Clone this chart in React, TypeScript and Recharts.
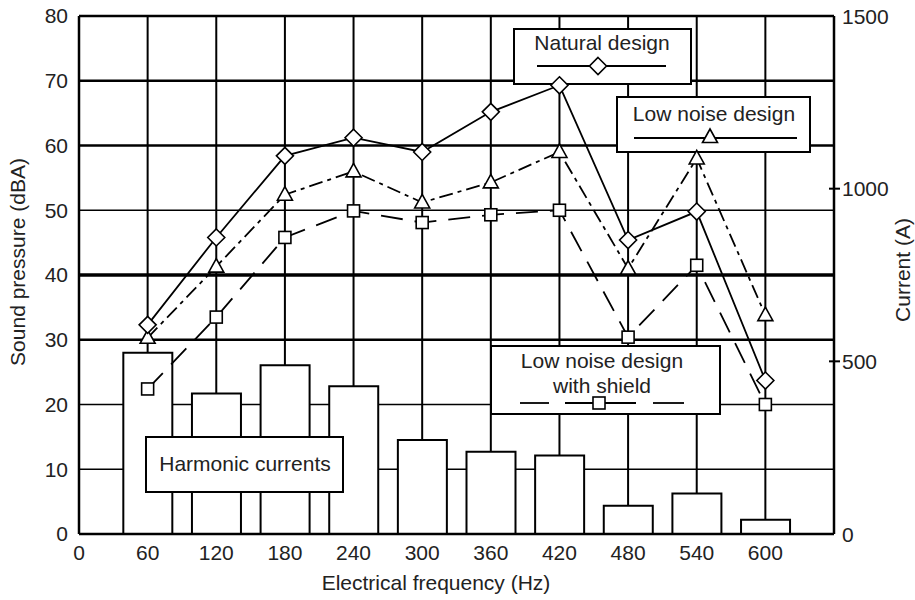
import React from "react";
import {
  ComposedChart,
  Bar,
  Line,
  XAxis,
  YAxis,
  CartesianGrid,
  Customized,
} from "recharts";

const freqs = [60, 120, 180, 240, 300, 360, 420, 480, 540, 600];
const naturalDesign = [32.3, 45.8, 58.4, 61.2, 59.0, 65.2, 69.3, 45.4, 49.8, 23.7];
const lowNoiseDesign = [30.3, 41.3, 52.4, 56.0, 51.2, 54.3, 59.0, 41.0, 58.0, 33.8];
const lowNoiseShield = [22.4, 33.5, 45.8, 49.9, 48.1, 49.3, 50.0, 30.4, 41.5, 20.0];
const harmonicCurrents = [525, 407, 489, 428, 272, 238, 227, 82, 117, 41];

const xTicks = [0, 60, 120, 180, 240, 300, 360, 420, 480, 540, 600];
const leftTicks = [0, 10, 20, 30, 40, 50, 60, 70, 80];
const rightTicks = [0, 500, 1000, 1500];

const data = freqs.map((f, i) => ({
  freq: f,
  natural: naturalDesign[i],
  lowNoise: lowNoiseDesign[i],
  shield: lowNoiseShield[i],
  current: harmonicCurrents[i],
}));

const FONT = "'Liberation Sans', Arial, Helvetica, sans-serif";
const FS = 21;

const Diamond = ({ cx, cy }: any) => {
  if (cx == null || cy == null) return null;
  const r = 8.5;
  return (
    <path
      d={`M${cx},${cy - r} L${cx + r},${cy} L${cx},${cy + r} L${cx - r},${cy} Z`}
      fill="#fff"
      stroke="#000"
      strokeWidth={1.6}
    />
  );
};

const Triangle = ({ cx, cy }: any) => {
  if (cx == null || cy == null) return null;
  return (
    <path
      d={`M${cx},${cy - 8} L${cx + 7.5},${cy + 5.5} L${cx - 7.5},${cy + 5.5} Z`}
      fill="#fff"
      stroke="#000"
      strokeWidth={1.6}
    />
  );
};

const Square = ({ cx, cy }: any) => {
  if (cx == null || cy == null) return null;
  return (
    <rect x={cx - 6} y={cy - 6} width={12} height={12} fill="#fff" stroke="#000" strokeWidth={1.6} />
  );
};

const RightTick = ({ x, y, payload }: any) => {
  const v = payload.value;
  return (
    <g>
      {v !== 0 && v !== 1500 ? (
        <line x1={x - 13} x2={x - 2} y1={y} y2={y} stroke="#000" strokeWidth={2} />
      ) : null}
      <text x={x} y={y} dy="0.36em" textAnchor="start" fontSize={FS} fontFamily={FONT} fill="#222">
        {v}
      </text>
    </g>
  );
};

const LegendBoxes = () => (
  <g fontFamily={FONT} fontSize={FS}>
    {/* Natural design legend */}
    <rect x={514} y={29} width={177} height={55} fill="#fff" stroke="#000" strokeWidth={2} />
    <text x={602} y={50} textAnchor="middle" fill="#222">Natural design</text>
    <line x1={537} x2={666} y1={66} y2={66} stroke="#000" strokeWidth={1.8} />
    <Diamond cx={598} cy={66} />

    {/* Low noise design legend */}
    <rect x={617} y={97} width={193} height={55} fill="#fff" stroke="#000" strokeWidth={2} />
    <text x={714} y={121} textAnchor="middle" fill="#222">Low noise design</text>
    <line x1={634} x2={797} y1={138} y2={138} stroke="#000" strokeWidth={1.8} />
    <Triangle cx={710} cy={137} />

    {/* Low noise design with shield legend */}
    <rect x={491} y={346} width={229} height={68} fill="#fff" stroke="#000" strokeWidth={2} />
    <text x={602} y={368} textAnchor="middle" fill="#222">Low noise design</text>
    <text x={602} y={393} textAnchor="middle" fill="#222">with shield</text>
    <line x1={520} x2={549} y1={403} y2={403} stroke="#000" strokeWidth={1.8} />
    <line x1={565} x2={636} y1={403} y2={403} stroke="#000" strokeWidth={1.8} />
    <line x1={653} x2={684} y1={403} y2={403} stroke="#000" strokeWidth={1.8} />
    <Square cx={599} cy={403} />
  </g>
);

export default function App() {
  return (
    <div style={{ position: "absolute", left: 0, top: 0, width: 915, height: 600, background: "#fff" }}>
      <ComposedChart
        width={915}
        height={600}
        data={data}
        margin={{ top: 16, right: 0, bottom: 0, left: 0 }}
      >
        <CartesianGrid xAxisId="x" yAxisId="left" horizontal={false} vertical stroke="#000" strokeWidth={2} strokeOpacity={1} />
        <CartesianGrid xAxisId="x" yAxisId="left" vertical={false} horizontalValues={[10, 20, 50]} stroke="#000" strokeWidth={1.3} strokeOpacity={1} />
        <CartesianGrid xAxisId="x" yAxisId="left" vertical={false} horizontalValues={[30, 60, 70, 80]} stroke="#000" strokeWidth={2.3} strokeOpacity={1} />
        <CartesianGrid xAxisId="x" yAxisId="left" vertical={false} horizontalValues={[40]} stroke="#000" strokeWidth={3.4} strokeOpacity={1} />
        <XAxis
          xAxisId="x"
          type="number"
          dataKey="freq"
          domain={[0, 660]}
          ticks={xTicks}
          height={66}
          tickLine={false}
          tickMargin={5}
          axisLine={{ stroke: "#000", strokeWidth: 2.5 }}
          tick={{ fontSize: FS, fontFamily: FONT, fill: "#222" }}
          interval={0}
        />
        <YAxis
          yAxisId="left"
          type="number"
          domain={[0, 80]}
          ticks={leftTicks}
          width={79}
          tickLine={false}
          tickMargin={5}
          axisLine={{ stroke: "#000", strokeWidth: 2.5 }}
          tick={{ fontSize: FS, fontFamily: FONT, fill: "#222" }}
          interval={0}
        />
        <YAxis
          yAxisId="right"
          orientation="right"
          type="number"
          domain={[0, 1500]}
          ticks={rightTicks}
          width={81}
          tickLine={false}
          axisLine={{ stroke: "#000", strokeWidth: 2.5 }}
          tick={<RightTick />}
          interval={0}
        />
        <Bar
          xAxisId="x"
          yAxisId="right"
          dataKey="current"
          barSize={49}
          fill="#fff"
          stroke="#000"
          strokeWidth={2}
          isAnimationActive={false}
        />
        <Customized component={LegendBoxes} />
        <Line
          xAxisId="x"
          yAxisId="left"
          type="linear"
          dataKey="shield"
          stroke="#000"
          strokeWidth={1.8}
          strokeDasharray="22 12"
          dot={<Square />}
          activeDot={false}
          isAnimationActive={false}
        />
        <Line
          xAxisId="x"
          yAxisId="left"
          type="linear"
          dataKey="lowNoise"
          stroke="#000"
          strokeWidth={1.8}
          strokeDasharray="14 5 4 5"
          dot={<Triangle />}
          activeDot={false}
          isAnimationActive={false}
        />
        <Line
          xAxisId="x"
          yAxisId="left"
          type="linear"
          dataKey="natural"
          stroke="#000"
          strokeWidth={1.8}
          dot={<Diamond />}
          activeDot={false}
          isAnimationActive={false}
        />
      </ComposedChart>
      <svg
        width={915}
        height={600}
        style={{ position: "absolute", left: 0, top: 0, pointerEvents: "none" }}
        fontFamily={FONT}
        fontSize={FS}
      >
        <rect x={146} y={437} width={197} height={55} fill="#fff" stroke="#000" strokeWidth={2} />
        <text x={245} y={471} textAnchor="middle" fill="#222">Harmonic currents</text>

        <text x={436} y={590} textAnchor="middle" fill="#222">Electrical frequency (Hz)</text>
        <text x={0} y={0} textAnchor="middle" fill="#222" transform="translate(25,262) rotate(-90)">
          Sound pressure (dBA)
        </text>
        <text x={0} y={0} textAnchor="middle" fill="#222" transform="translate(910,270) rotate(-90)">
          Current (A)
        </text>
      </svg>
    </div>
  );
}
